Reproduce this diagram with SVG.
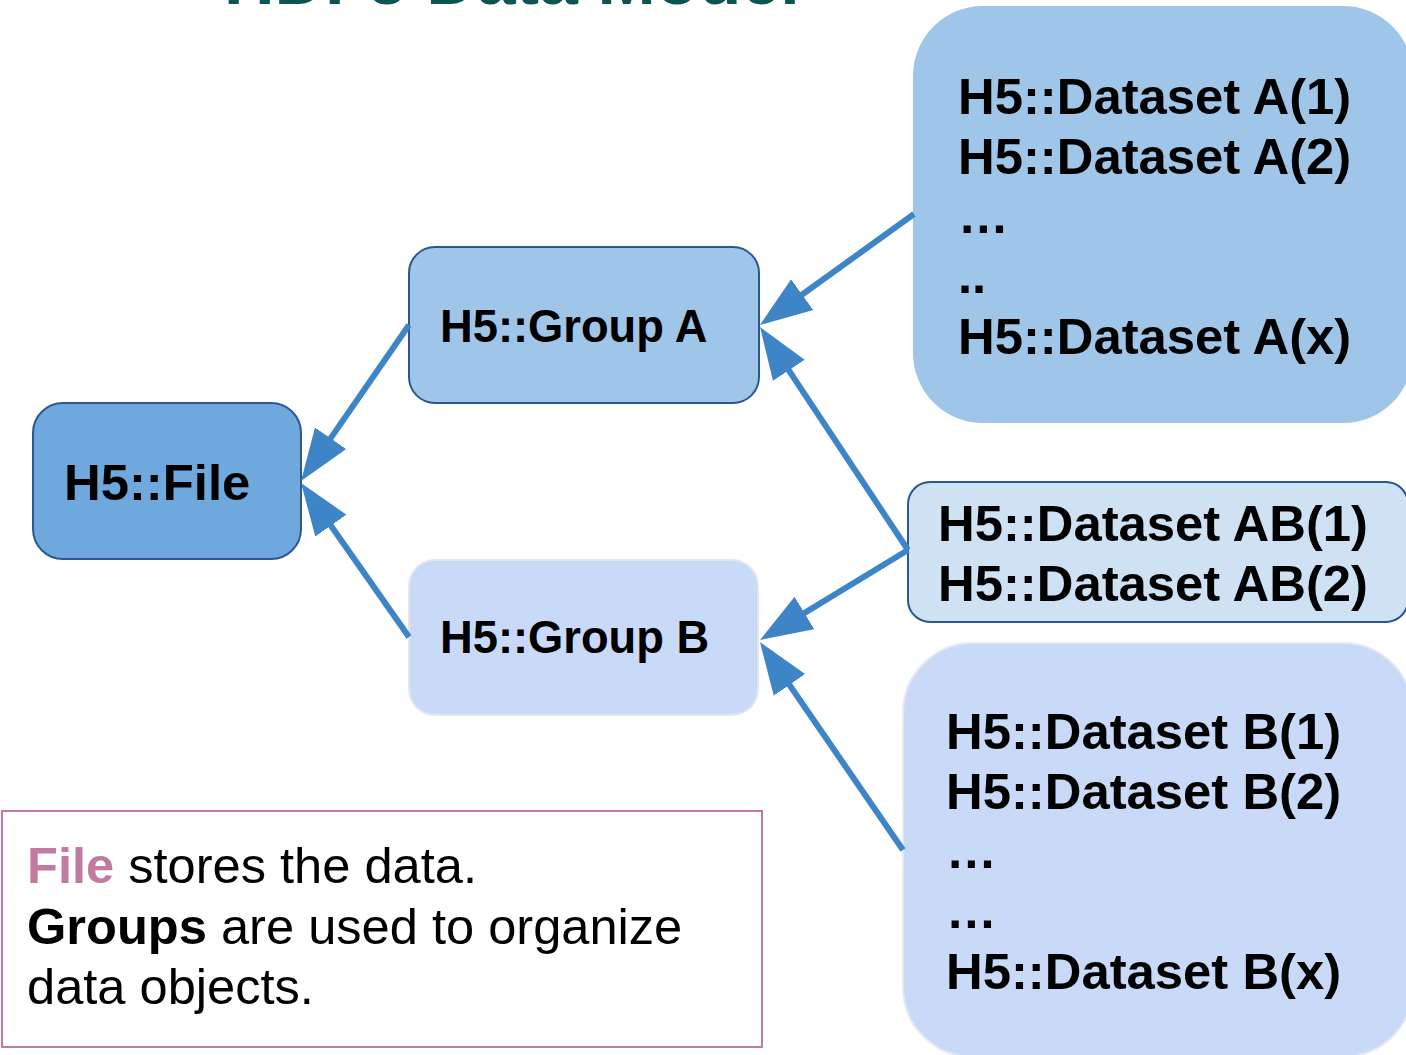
<svg xmlns="http://www.w3.org/2000/svg" width="1406" height="1055" viewBox="0 0 1406 1055">
  <style>
    .lbl { font-family: "Liberation Sans", Arial, sans-serif; font-weight: bold; fill: #000; }
    .big { font-size: 50.8px; }
    .mid { font-size: 45.3px; }
    .conn { fill: none; stroke: #3d85c6; stroke-width: 6; marker-end: url(#head); }
    .note { font-family: "Liberation Sans", Arial, sans-serif; font-size: 50.6px; fill: #000; }
  </style>
  <defs>
    <!-- filled triangular arrowhead; line ends 20px short of the tip -->
    <marker id="head" markerUnits="userSpaceOnUse" markerWidth="52" markerHeight="40" viewBox="0 0 52 40" refX="32" refY="20" orient="auto">
      <path d="M0,1 L52,20 L0,39 z" fill="#3d85c6"/>
    </marker>
  </defs>
  <rect width="1406" height="1055" fill="#ffffff"/>

  <!-- heading, mostly above the top edge -->
  <text x="224" y="4" font-family="Liberation Sans, Arial, sans-serif" font-weight="bold" font-size="70" fill="#0c5451">HDF5 Data Model</text>

  <g id="file">
    <rect x="33" y="403" width="268" height="156" rx="30" fill="#6fa8dc" stroke="#2b5794" stroke-width="2"/>
    <text class="lbl big" x="64" y="500">H5::File</text>
  </g>

  <g id="group-a">
    <rect x="409" y="247" width="350" height="156" rx="26" fill="#9fc5e8" stroke="#2b5794" stroke-width="2"/>
    <text class="lbl mid" x="440" y="342">H5::Group A</text>
  </g>

  <g id="group-b">
    <rect x="409" y="560" width="349" height="155" rx="26" fill="#c9daf8" stroke="#e4e8ee" stroke-width="2"/>
    <text class="lbl mid" x="440" y="653">H5::Group B</text>
  </g>

  <g id="datasets-a">
    <rect x="913" y="6" width="500" height="417" rx="70" fill="#9fc5e8"/>
    <text class="lbl big" x="958" y="114">H5::Dataset A(1)</text>
    <text class="lbl big" x="958" y="174">H5::Dataset A(2)</text>
    <text class="lbl big" x="958" y="233">…</text>
    <text class="lbl big" x="958" y="293">..</text>
    <text class="lbl big" x="958" y="354">H5::Dataset A(x)</text>
  </g>

  <g id="datasets-ab">
    <rect x="908" y="482" width="500" height="140" rx="22" fill="#cfe2f3" stroke="#2b5794" stroke-width="2"/>
    <text class="lbl big" x="938" y="541">H5::Dataset AB(1)</text>
    <text class="lbl big" x="938" y="601">H5::Dataset AB(2)</text>
  </g>

  <g id="datasets-b">
    <rect x="903" y="643" width="510" height="414" rx="70" fill="#c9daf8" stroke="#e6e9ef" stroke-width="2"/>
    <text class="lbl big" x="946" y="749">H5::Dataset B(1)</text>
    <text class="lbl big" x="946" y="809">H5::Dataset B(2)</text>
    <text class="lbl big" x="946" y="868">…</text>
    <text class="lbl big" x="946" y="928">…</text>
    <text class="lbl big" x="946" y="989">H5::Dataset B(x)</text>
  </g>

  <g id="connectors">
    <path class="conn" d="M409,325 L312.4,464.6"/>
    <path class="conn" d="M409,637 L312.5,499.4"/>
    <path class="conn" d="M914,214 L776.2,313.3"/>
    <path class="conn" d="M908,550 L771.1,343.7"/>
    <path class="conn" d="M908,550 L777.1,629.6"/>
    <path class="conn" d="M903,850 L771.3,658.5"/>
  </g>

  <g id="legend">
    <rect x="2" y="811" width="760" height="236" fill="#ffffff" stroke="#c27ba0" stroke-width="2"/>
    <text class="note" x="27" y="883"><tspan font-weight="bold" fill="#c27ba0">File</tspan> stores the data.</text>
    <text class="note" x="27" y="944"><tspan font-weight="bold">Groups</tspan> are used to organize</text>
    <text class="note" x="27" y="1004">data objects.</text>
  </g>
</svg>
